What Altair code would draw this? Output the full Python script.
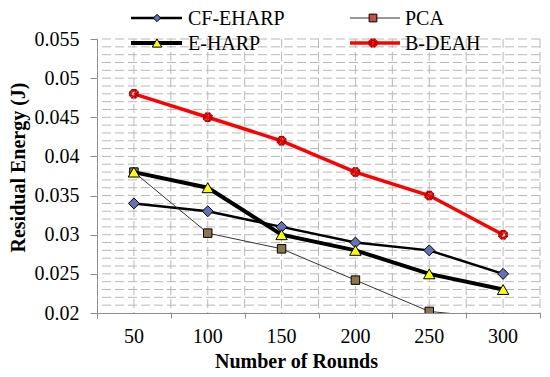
import altair as alt
import pandas as pd

# ---------------- data ----------------
rounds = [50, 100, 150, 200, 250, 300]
cf_eharp = [0.034, 0.033, 0.031, 0.029, 0.028, 0.025]
pca = [0.038, 0.0302, 0.0282, 0.0242, 0.0202, 0.0193]
e_harp = [0.038, 0.036, 0.030, 0.028, 0.025, 0.023]
b_deah = [0.048, 0.045, 0.042, 0.038, 0.035, 0.030]
series_names = ["CF-EHARP", "PCA", "E-HARP", "B-DEAH"]
y_ticks = [0.02, 0.025, 0.03, 0.035, 0.04, 0.045, 0.05, 0.055]
x_bounds = [25, 75, 125, 175, 225, 275, 325]
x_label = "Number of Rounds"
y_label = "Residual Energy (J)"

# ---------------- styling ----------------
W, H = 443, 274
FONT = "Liberation Serif"
GRID = "#b8b8b8"
AXIS = "#8c8c8c"

xscale = alt.Scale(domain=[25, 325], nice=False, zero=False)
yscale = alt.Scale(domain=[0.02, 0.055], nice=False, zero=False)

xaxis = alt.Axis(values=x_bounds, labels=False, ticks=True, tickSize=5,
                 tickColor=AXIS, domainColor=AXIS, grid=False,
                 title=x_label, titleFont=FONT, titleFontSize=20,
                 titleFontWeight="bold", titleColor="black",
                 titleX=199, titleY=48, titleAlign="center",
                 titleBaseline="middle")
yaxis = alt.Axis(values=y_ticks, format="~g", labelFont=FONT, labelFontSize=20,
                 labelColor="black", tickSize=7, tickColor=AXIS,
                 domainColor=AXIS, labelPadding=11, grid=False,
                 title=y_label, titleFont=FONT, titleFontSize=20,
                 titleFontWeight="bold", titleColor="black",
                 titleX=-79, titleY=128, titleAngle=270, titleAlign="center",
                 titleBaseline="middle")

X = lambda f: alt.X(f, type="quantitative", scale=xscale, axis=xaxis)
Y = lambda f: alt.Y(f, type="quantitative", scale=yscale, axis=yaxis)

# ---------------- grid ----------------
hgrid_df = pd.DataFrame({"y": [round(0.021 + 0.001 * i, 3) for i in range(35)]})
vgrid_df = pd.DataFrame({"x": list(range(50, 326, 25))})

hgrid = alt.Chart(hgrid_df).mark_rule(color=GRID, strokeWidth=1,
                                      strokeDash=[9, 4]).encode(y=Y("y"))
vgrid = alt.Chart(vgrid_df).mark_rule(color=GRID, strokeWidth=1,
                                      strokeDash=[9, 4]).encode(x=X("x"))

xlabels = alt.Chart(pd.DataFrame({"r": rounds})).mark_text(
    font=FONT, fontSize=20, color="black", baseline="middle"
).encode(x=X("r"), y=alt.value(H + 24), text=alt.Text("r:Q"))

# ---------------- series ----------------
styles = {
    "CF-EHARP": dict(line="black", lw=2.5, shape="diamond", fill="#6670b4",
                     stroke="black", size=120, leg_fill="#6670b4", leg_size=55),
    "PCA": dict(line="#3a3030", lw=1, shape="square", fill="#8b7650",
                stroke="black", size=72, leg_fill="#c0504d", leg_size=60),
    "E-HARP": dict(line="black", lw=4, shape="triangle-up", fill="#ffff00",
                   stroke="black", size=130, leg_fill="#ffff00", leg_size=90),
    "B-DEAH": dict(line="#ff0000", lw=3.5, shape="cross", fill=None,
                   stroke="#c00000", size=70, leg_fill=None, leg_size=60),
}
values = {"CF-EHARP": cf_eharp, "PCA": pca, "E-HARP": e_harp, "B-DEAH": b_deah}

layers = [hgrid, vgrid]

for name in series_names:
    st = styles[name]
    df = pd.DataFrame({"round": rounds, "value": values[name]})
    base = alt.Chart(df)
    layers.append(base.mark_line(color=st["line"], strokeWidth=st["lw"],
                                 clip=True).encode(x=X("round"), y=Y("value")))
    if st["fill"]:
        pt = base.mark_point(shape=st["shape"], filled=True, fill=st["fill"],
                             stroke=st["stroke"], strokeWidth=1, size=st["size"],
                             opacity=1, clip=True)
        layers.append(pt.encode(x=X("round"), y=Y("value")))
    else:
        for ang in [0, 45]:
            pt = base.mark_point(shape="cross", filled=False, stroke=st["stroke"],
                                 strokeWidth=1.2, size=st["size"], angle=ang,
                                 opacity=1)
            layers.append(pt.encode(x=X("round"), y=Y("value")))

# ---------------- legend ----------------
leg_pos = {
    "CF-EHARP": (34, 85, 60, -21, 91),
    "PCA": (253, 303, 276, -21, 308),
    "E-HARP": (34, 85, 60, 4, 91),
    "B-DEAH": (253, 303, 276, 4, 308),
}
for name in series_names:
    st = styles[name]
    x0, x1, xm, yy, xt = leg_pos[name]
    ldf = pd.DataFrame({"name": [name]})
    lb = alt.Chart(ldf)
    layers.append(lb.mark_rule(color=st["line"], strokeWidth=st["lw"]).encode(
        x=alt.value(x0), x2=alt.value(x1), y=alt.value(yy)))
    if st["leg_fill"]:
        lp = lb.mark_point(shape=st["shape"], filled=True, fill=st["leg_fill"],
                           stroke="black", strokeWidth=1, size=st["leg_size"], opacity=1)
        layers.append(lp.encode(x=alt.value(xm), y=alt.value(yy)))
    else:
        for ang in [0, 45]:
            lp = lb.mark_point(shape="cross", filled=False, stroke=st["stroke"],
                               strokeWidth=1.2, size=st["leg_size"], angle=ang,
                               opacity=1)
            layers.append(lp.encode(x=alt.value(xm), y=alt.value(yy)))
    layers.append(lb.mark_text(font=FONT, fontSize=20, color="black", align="left",
                               baseline="middle").encode(
        x=alt.value(xt), y=alt.value(yy + 1), text="name:N"))

layers.append(xlabels)

chart = alt.layer(*layers).properties(
    width=W, height=H,
    autosize=alt.AutoSizeParams(type="none"),
    padding={"left": 89, "top": 31, "right": 2, "bottom": 58},
).configure_view(stroke=None)

chart.save("out.html", embed_options={"renderer": "svg", "actions": False})
